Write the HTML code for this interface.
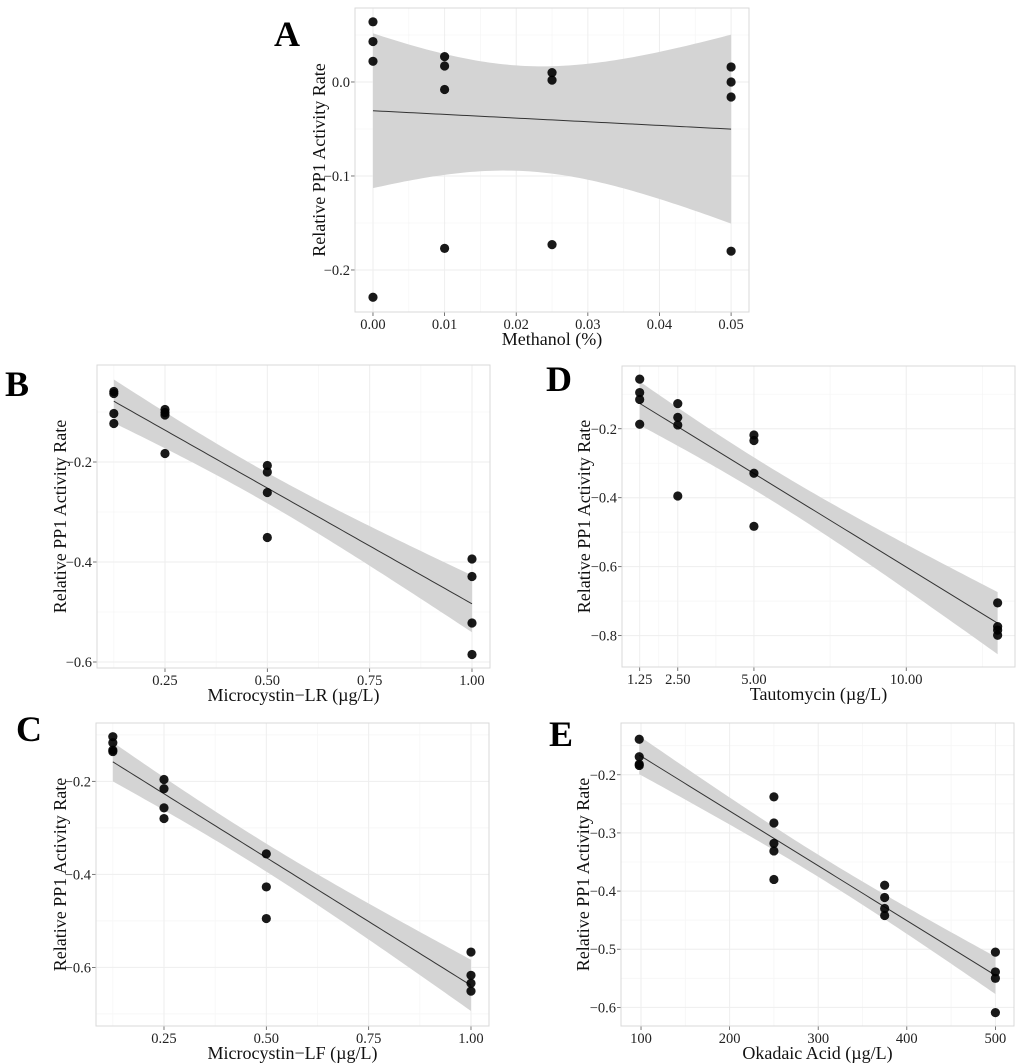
<!DOCTYPE html>
<html><head><meta charset="utf-8"><style>
html,body{margin:0;padding:0;background:#fff;}
svg{display:block;font-family:"Liberation Serif",serif;}
</style></head><body>
<svg id="fig" width="1024" height="1063" viewBox="0 0 1024 1063" xmlns="http://www.w3.org/2000/svg"></svg>
<script>
// ---- Data ----
const aX=[0,0,0,0,0.01,0.01,0.01,0.01,0.025,0.025,0.025,0.05,0.05,0.05,0.05];
const aY=[0.064,0.043,0.022,-0.229,0.027,0.017,-0.008,-0.177,0.010,0.002,-0.173,0.016,0.0,-0.016,-0.180];
const bX=[0.125,0.125,0.125,0.125,0.25,0.25,0.25,0.25,0.5,0.5,0.5,0.5,1,1,1,1];
const bY=[-0.059,-0.063,-0.103,-0.123,-0.095,-0.101,-0.106,-0.183,-0.207,-0.22,-0.261,-0.351,-0.394,-0.429,-0.522,-0.585];
const dX=[1.25,1.25,1.25,1.25,2.5,2.5,2.5,2.5,5,5,5,5,13,13,13,13];
const dY=[-0.056,-0.095,-0.115,-0.187,-0.127,-0.167,-0.189,-0.395,-0.218,-0.234,-0.329,-0.483,-0.705,-0.774,-0.784,-0.799];
const cX=[0.125,0.125,0.125,0.125,0.25,0.25,0.25,0.25,0.5,0.5,0.5,1,1,1,1];
const cY=[-0.104,-0.117,-0.133,-0.136,-0.196,-0.216,-0.257,-0.280,-0.356,-0.427,-0.495,-0.567,-0.617,-0.634,-0.651];
const eX=[98,98,98,98,250,250,250,250,250,375,375,375,375,500,500,500,500];
const eY=[-0.139,-0.169,-0.182,-0.184,-0.238,-0.283,-0.318,-0.331,-0.380,-0.390,-0.411,-0.430,-0.442,-0.505,-0.539,-0.550,-0.609];
// tick arrays
const aXTicks=[0,0.01,0.02,0.03,0.04,0.05];
const aXLabels=["0.00","0.01","0.02","0.03","0.04","0.05"];
const aYTicks=[-0.2,-0.1,0.0];
const aYLabels=["−0.2","−0.1","0.0"];
const lrXTicks=[0.25,0.5,0.75,1.0];
const lrXLabels=["0.25","0.50","0.75","1.00"];
const bYTicks=[-0.2,-0.4,-0.6];
const bYLabels=["−0.2","−0.4","−0.6"];
const dXTicks=[1.25,2.5,5,10];
const dXLabels=["1.25","2.50","5.00","10.00"];
const dYTicks=[-0.2,-0.4,-0.6,-0.8];
const dYLabels=["−0.2","−0.4","−0.6","−0.8"];
const eXTicks=[100,200,300,400,500];
const eXLabels=["100","200","300","400","500"];
const eYTicks=[-0.2,-0.3,-0.4,-0.5,-0.6];
const eYLabels=["−0.2","−0.3","−0.4","−0.5","−0.6"];

const NS="http://www.w3.org/2000/svg";
const svg=document.getElementById('fig');
function mk(tag,attrs,parent){const e=document.createElementNS(NS,tag);for(const k in attrs)e.setAttribute(k,attrs[k]);(parent||svg).appendChild(e);return e;}
function tq(df){const z=1.959964;return z+(z**3+z)/(4*df)+(5*z**5+16*z**3+3*z)/(96*df*df)+(3*z**7+19*z**5+17*z**3-15*z)/(384*df**3);}

function panel(p){
  const g=mk('g',{});
  
  
  const sx=v=>p.L+(v-p.x0)/(p.x1-p.x0)*(p.R-p.L);
  const sy=v=>p.B-(v-p.y0)/(p.y1-p.y0)*(p.B-p.T);
  function minors(t,lo,hi){const m=[];for(let i=0;i<t.length-1;i++)m.push((t[i]+t[i+1])/2);
    const s0=t[1]-t[0],s1=t[t.length-1]-t[t.length-2];
    let v=t[0]-s0/2;while(v>lo){m.push(v);v-=s0;} v=t[t.length-1]+s1/2;while(v<hi){m.push(v);v+=s1;}return m;}
  minors(p.xt,p.x0,p.x1).forEach(v=>{const l=mk('line',{x1:sx(v),x2:sx(v),y1:p.T,y2:p.B,stroke:'#f6f6f6','stroke-width':0.8},g);});
  minors(p.yt.slice().sort((a,b)=>a-b),p.y0,p.y1).forEach(v=>{const l=mk('line',{x1:p.L,x2:p.R,y1:sy(v),y2:sy(v),stroke:'#f6f6f6','stroke-width':0.8},g);});
  p.xt.forEach((v,i)=>{const l=mk('line',{x1:sx(v),x2:sx(v),y1:p.T,y2:p.B,stroke:'#eeeeee','stroke-width':1},g);
    const tk=mk('line',{x1:sx(v),x2:sx(v),y1:p.B,y2:p.B+4,stroke:'#555','stroke-width':0.8},g);
    const t=mk('text',{x:sx(v),y:p.B+17,'text-anchor':'middle','font-size':'14.5px',fill:'#222'},g);t.textContent=p.xl[i];});
  p.yt.forEach((v,i)=>{const l=mk('line',{x1:p.L,x2:p.R,y1:sy(v),y2:sy(v),stroke:'#eeeeee','stroke-width':1},g);
    const tk=mk('line',{x1:p.L-4,x2:p.L,y1:sy(v),y2:sy(v),stroke:'#555','stroke-width':0.8},g);
    const t=mk('text',{x:p.L-5,y:sy(v)+5,'text-anchor':'end','font-size':'14.5px',fill:'#222'},g);t.textContent=p.yl[i];});
  const X=p.X,Y=p.Y,n=X.length;const mx=X.reduce((a,b)=>a+b)/n,my=Y.reduce((a,b)=>a+b)/n;
  let sxx=0,sxy=0;for(let i=0;i<n;i++){sxx+=(X[i]-mx)**2;sxy+=(X[i]-mx)*(Y[i]-my);}
  const b1=sxy/sxx,b0=my-b1*mx;let sse=0;for(let i=0;i<n;i++)sse+=(Y[i]-b0-b1*X[i])**2;
  const s=Math.sqrt(sse/(n-2)),t=tq(n-2);
  const xmin=Math.min(...X),xmax=Math.max(...X);const up=[],lo=[],mid=[];
  for(let k=0;k<=80;k++){const x=xmin+(xmax-xmin)*k/80;const f=b0+b1*x;const se=s*Math.sqrt(1/n+(x-mx)**2/sxx);
    up.push(sx(x)+','+sy(f+t*se));lo.push(sx(x)+','+sy(f-t*se));mid.push(sx(x)+','+sy(f));}
  const band=mk('polygon',{points:up.concat(lo.reverse()).join(' '),fill:'#d4d4d4'},g);
  
  const ln=mk('polyline',{points:mid.join(' '),fill:'none',stroke:'#333','stroke-width':1},g);
  
  for(let i=0;i<n;i++){const c=mk('circle',{cx:sx(X[i]),cy:sy(Y[i]),r:4.6,fill:'#000','fill-opacity':0.9},g);
    }
  const fr=mk('rect',{x:p.L,y:p.T,width:p.R-p.L,height:p.B-p.T,fill:'none',stroke:'#d9d9d9','stroke-width':1},g);
  
  const xt=mk('text',{x:(p.L+p.R)/2,y:p.B+33,'text-anchor':'middle','font-size':'18px',fill:'#111'},g);xt.textContent=p.xtitle;
  
  const yc=(p.T+p.B)/2;const yt=mk('text',{x:p.ytx,y:yc,'text-anchor':'middle','font-size':'18px',fill:'#111',transform:`rotate(-90 ${p.ytx} ${yc})`},g);yt.textContent='Relative PP1 Activity Rate';
  
  const lt=mk('text',{x:p.lx,y:p.ly,'font-size':'36px',fill:'#000','font-weight':'bold'},g);lt.textContent=p.id;
  
}
panel({id:'A',L:355,R:749,T:8,B:312,x0:-0.00251,x1:0.0525,y0:-0.2447,y1:0.0787,X:aX,Y:aY,xt:aXTicks,xl:aXLabels,yt:aYTicks,yl:aYLabels,xtitle:'Methanol (%)',ytx:325,lx:274,ly:46});
panel({id:'B',L:97,R:490,T:365,B:668,x0:0.0839,x1:1.044,y0:-0.612,y1:-0.006,X:bX,Y:bY,xt:lrXTicks,xl:lrXLabels,yt:bYTicks,yl:bYLabels,xtitle:'Microcystin−LR (µg/L)',ytx:66,lx:5,ly:396});
panel({id:'D',L:622,R:1015,T:366,B:667,x0:0.669,x1:13.57,y0:-0.891,y1:-0.018,X:dX,Y:dY,xt:dXTicks,xl:dXLabels,yt:dYTicks,yl:dYLabels,xtitle:'Tautomycin (µg/L)',ytx:590,lx:546,ly:391});
panel({id:'C',L:96,R:489,T:723,B:1026,x0:0.0839,x1:1.044,y0:-0.726,y1:-0.0746,X:cX,Y:cY,xt:lrXTicks,xl:lrXLabels,yt:bYTicks,yl:bYLabels,xtitle:'Microcystin−LF (µg/L)',ytx:66,lx:16,ly:741});
panel({id:'E',L:621,R:1014,T:723,B:1026,x0:77.4,x1:521,y0:-0.632,y1:-0.111,X:eX,Y:eY,xt:eXTicks,xl:eXLabels,yt:eYTicks,yl:eYLabels,xtitle:'Okadaic Acid (µg/L)',ytx:589,lx:549,ly:746});
</script>
</body></html>
